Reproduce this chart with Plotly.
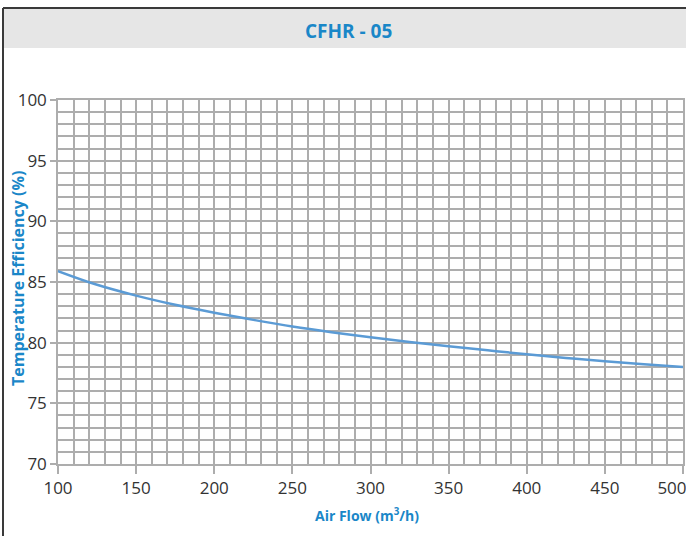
import plotly.graph_objects as go

# Data
air_flow = [100, 125, 150, 175, 200, 225, 250, 275, 300,
            325, 350, 375, 400, 425, 450, 475, 500]
efficiency = [85.9, 84.77, 83.88, 83.12, 82.47, 81.88, 81.33, 80.86, 80.44,
              80.06, 79.71, 79.37, 79.04, 78.74, 78.47, 78.23, 78.0]
x_ticks = [100, 150, 200, 250, 300, 350, 400, 450, 500]
# last label padded so it sits inside the window, as in the reference
x_tick_text = ["100", "150", "200", "250", "300", "350", "400", "450",
               "500" + "&nbsp;" * 5]
y_ticks = [70, 75, 80, 85, 90, 95, 100]
title_text = "CFHR - 05"
x_title = "Air Flow (m<sup>3</sup>/h)"
y_title = "Temperature Efficiency (%)"

# figure is a bit wider than the 686px window; the page clips it at the window edge
W, H = 716, 536
L, R, T, B = 58, 33, 100, 72
pw, ph = W - L - R, H - T - B


def px_x(p):
    return (p - L) / pw


def px_y(p):
    return (H - B - p) / ph


BLUE = "#1a87c8"
GRID = "#adadad"
TICKFONT = dict(family="Open Sans, Liberation Sans, sans-serif", size=17, color="#333333")

fig = go.Figure()
fig.add_trace(go.Scatter(
    x=air_flow, y=efficiency, mode="lines",
    line=dict(color="#5b9bd5", width=2.5, shape="spline", smoothing=1.0),
    hoverinfo="skip", showlegend=False,
))

fig.update_layout(
    width=W, height=H,
    margin=dict(l=L, r=R, t=T, b=B),
    paper_bgcolor="white", plot_bgcolor="white",
    showlegend=False,
    xaxis=dict(
        range=[100, 500], tickvals=x_ticks, ticktext=x_tick_text,
        ticks="outside", ticklen=8,
        tickcolor=GRID, tickwidth=1.5, automargin=False,
        showgrid=True, gridcolor=GRID, gridwidth=1.5,
        minor=dict(dtick=10, showgrid=True, gridcolor=GRID, gridwidth=1.5),
        showline=True, linecolor=GRID, linewidth=1.5, mirror=True,
        zeroline=False, tickfont=TICKFONT,
    ),
    yaxis=dict(
        range=[70, 100], tickvals=y_ticks, ticks="outside", ticklen=6,
        tickcolor=GRID, tickwidth=1.5, automargin=False,
        showgrid=True, gridcolor=GRID, gridwidth=1.5,
        minor=dict(dtick=1, showgrid=True, gridcolor=GRID, gridwidth=1.5),
        showline=True, linecolor=GRID, linewidth=1.5, mirror=True,
        zeroline=False, tickfont=TICKFONT,
    ),
    shapes=[
        dict(type="rect", xref="paper", yref="paper",
             x0=px_x(3), x1=px_x(W + 5), y0=px_y(48), y1=px_y(8),
             fillcolor="#e6e6e6", line=dict(width=0), layer="below"),
        dict(type="line", xref="paper", yref="paper",
             x0=px_x(3), x1=px_x(W + 5), y0=px_y(8), y1=px_y(8),
             line=dict(color="#3a3a3a", width=2)),
        dict(type="line", xref="paper", yref="paper",
             x0=px_x(3), x1=px_x(3), y0=px_y(8), y1=px_y(H + 5),
             line=dict(color="#3a3a3a", width=2)),
    ],
    annotations=[
        dict(text="<b>" + title_text + "</b>", xref="paper", yref="paper",
             x=px_x(348), y=px_y(31), xanchor="center", yanchor="middle",
             showarrow=False,
             font=dict(family="Open Sans, sans-serif", size=19, color=BLUE)),
        dict(text="<b>" + x_title + "</b>", xref="paper", yref="paper",
             x=px_x(367), y=px_y(515), xanchor="center", yanchor="middle",
             showarrow=False,
             font=dict(family="Open Sans, sans-serif", size=14, color=BLUE)),
        dict(text="<b>" + y_title + "</b>", xref="paper", yref="paper",
             x=px_x(18), y=px_y(279), xanchor="center", yanchor="middle",
             textangle=-90, showarrow=False,
             font=dict(family="Open Sans, sans-serif", size=16, color=BLUE)),
    ],
)

fig.write_html("out.html", config={"displayModeBar": False},
               post_script="document.body.style.margin='0';document.body.style.overflow='hidden';")
